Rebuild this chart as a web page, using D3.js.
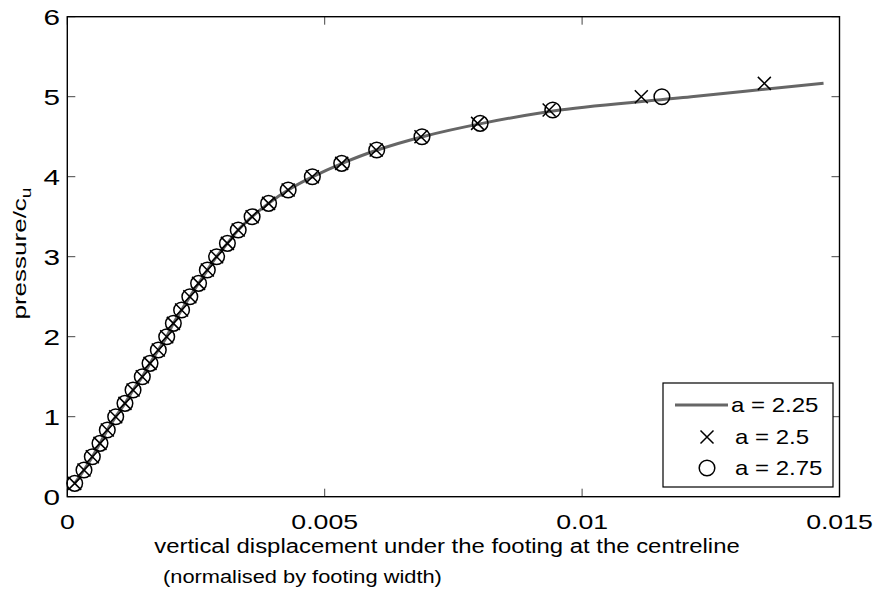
<!DOCTYPE html>
<html>
<head>
<meta charset="utf-8">
<script src="https://cdn.jsdelivr.net/npm/d3@7"></script>
<style>
  html, body { margin: 0; padding: 0; background: #fff; }
  svg { display: block; }
  text { font-family: "Liberation Sans", Arial, Helvetica, sans-serif; fill: #000; }
</style>
</head>
<body>
<svg id="chart" width="874" height="590"></svg>
<script>
// Load levels (pressure / c_u) at which displacements were recorded
const pressureLevels = [0.1667, 0.3333, 0.5, 0.6667, 0.8333, 1.0, 1.1667, 1.3333, 1.5, 1.6667,
  1.8333, 2.0, 2.1667, 2.3333, 2.5, 2.6667, 2.8333, 3.0, 3.1667, 3.3333,
  3.5, 3.6667, 3.8333, 4.0, 4.1667, 4.3333, 4.5, 4.6667, 4.8333, 5.0, 5.1667];

// Normalised vertical displacement at the centreline, one array per value of a
const dispA225 = [0.000144, 0.000324, 0.000486, 0.000635, 0.000777, 0.00094, 0.00112, 0.001277, 0.001457, 0.001607,
  0.001768, 0.001931, 0.00206, 0.00222, 0.00238, 0.00255, 0.00272, 0.0029, 0.00311, 0.00332,
  0.00359, 0.00391, 0.00429, 0.00477, 0.00534, 0.00602, 0.0069, 0.00806, 0.00957, 0.01212, 0.01469];
const dispA25 = [0.000144, 0.000324, 0.000486, 0.000635, 0.000777, 0.00094, 0.00112, 0.001277, 0.001457, 0.001607,
  0.001768, 0.001931, 0.00206, 0.00222, 0.00238, 0.00255, 0.00272, 0.0029, 0.00311, 0.00332,
  0.00359, 0.00391, 0.00429, 0.00476, 0.00533, 0.006, 0.00687, 0.00797, 0.00936, 0.01115, 0.01354];
const dispA275 = [0.000144, 0.000324, 0.000486, 0.000635, 0.000777, 0.00094, 0.00112, 0.001277, 0.001457, 0.001607,
  0.001768, 0.001931, 0.00206, 0.00222, 0.00238, 0.00255, 0.00272, 0.0029, 0.00311, 0.00332,
  0.00359, 0.00391, 0.00429, 0.00476, 0.00533, 0.00601, 0.00689, 0.00802, 0.00943, 0.01155];

const xTicks = [0, 0.005, 0.01, 0.015];
const xTickLabels = ["0", "0.005", "0.01", "0.015"];
const yTicks = [0, 1, 2, 3, 4, 5, 6];
const yTickLabels = ["0", "1", "2", "3", "4", "5", "6"];
const legendLabels = ["a = 2.25", "a = 2.5", "a = 2.75"];

const svg = d3.select("#chart");
const plot = { left: 67.3, right: 839.5, top: 16.7, bottom: 496.7 };

const x = d3.scaleLinear().domain([0, 0.015]).range([plot.left, plot.right]);
const y = d3.scaleLinear().domain([0, 6]).range([plot.bottom, plot.top]);

const tickLen = 8;

// Tick marks pointing inward on all four sides
const tickG = svg.append("g").attr("stroke", "#444").attr("stroke-width", 1);
xTicks.forEach(v => {
  tickG.append("line").attr("x1", x(v)).attr("x2", x(v)).attr("y1", plot.bottom).attr("y2", plot.bottom - tickLen);
  tickG.append("line").attr("x1", x(v)).attr("x2", x(v)).attr("y1", plot.top).attr("y2", plot.top + tickLen);
});
yTicks.forEach(v => {
  tickG.append("line").attr("x1", plot.left).attr("x2", plot.left + tickLen).attr("y1", y(v)).attr("y2", y(v));
  tickG.append("line").attr("x1", plot.right).attr("x2", plot.right - tickLen).attr("y1", y(v)).attr("y2", y(v));
});

// Axis frame
svg.append("rect")
  .attr("x", plot.left).attr("y", plot.top)
  .attr("width", plot.right - plot.left).attr("height", plot.bottom - plot.top)
  .attr("fill", "none").attr("stroke", "#000").attr("stroke-width", 1.4);

// Text helper with horizontal stretch
function stretchedText(g, tx, ty, str, size, anchor, sx) {
  return g.append("text")
    .attr("transform", `translate(${tx},${ty}) scale(${sx},1)`)
    .attr("text-anchor", anchor)
    .attr("font-size", size)
    .text(str);
}
const labelG = svg.append("g");
xTicks.forEach((v, i) => stretchedText(labelG, x(v), 529, xTickLabels[i], 21, "middle", 1.27));
yTicks.forEach((v, i) => stretchedText(labelG, 60, y(v) + 8, yTickLabels[i], 22, "end", 1.35));

// Axis titles
stretchedText(svg, 447, 553, "vertical displacement under the footing at the centreline", 19.5, "middle", 1.225);
stretchedText(svg, 163, 583, "(normalised by footing width)", 18.5, "start", 1.18);

const yTitle = svg.append("text")
  .attr("transform", `translate(26,253.5) rotate(-90) scale(1.37,1)`)
  .attr("text-anchor", "middle")
  .attr("font-size", 19);
yTitle.append("tspan").text("pressure/c");
yTitle.append("tspan").attr("font-size", 14).attr("dy", 5).text("u");

// Curve for a = 2.25
const lineData = pressureLevels.map((p, i) => [dispA225[i], p]);
const line = d3.line().x(d => x(d[0])).y(d => y(d[1])).curve(d3.curveCatmullRom);
svg.append("path")
  .datum(lineData)
  .attr("d", line)
  .attr("fill", "none")
  .attr("stroke", "#666")
  .attr("stroke-width", 3);

// Cross markers for a = 2.5
const cross = (cx, cy, s) => `M${cx - s},${cy - s}L${cx + s},${cy + s}M${cx - s},${cy + s}L${cx + s},${cy - s}`;
svg.append("g").selectAll("path")
  .data(dispA25.map((d, i) => [d, pressureLevels[i]]))
  .join("path")
  .attr("d", d => cross(x(d[0]), y(d[1]), 6.5))
  .attr("stroke", "#000").attr("stroke-width", 1.5).attr("fill", "none");

// Circle markers for a = 2.75
svg.append("g").selectAll("circle")
  .data(dispA275.map((d, i) => [d, pressureLevels[i]]))
  .join("circle")
  .attr("cx", d => x(d[0])).attr("cy", d => y(d[1]))
  .attr("r", 7.8)
  .attr("fill", "none").attr("stroke", "#000").attr("stroke-width", 1.5);

// Legend
const lg = svg.append("g");
const box = { x: 663, y: 383, w: 170, h: 104 };
lg.append("rect").attr("x", box.x).attr("y", box.y).attr("width", box.w).attr("height", box.h)
  .attr("fill", "#fff").attr("stroke", "#000").attr("stroke-width", 1.2);
const rowY = [405, 437, 468];
lg.append("line").attr("x1", 675).attr("x2", 728).attr("y1", rowY[0]).attr("y2", rowY[0])
  .attr("stroke", "#666").attr("stroke-width", 3);
lg.append("path").attr("d", cross(707, rowY[1], 6.5)).attr("stroke", "#000").attr("stroke-width", 1.5);
lg.append("circle").attr("cx", 707).attr("cy", rowY[2]).attr("r", 7.8)
  .attr("fill", "none").attr("stroke", "#000").attr("stroke-width", 1.5);
stretchedText(lg, 731, rowY[0] + 7, legendLabels[0], 20, "start", 1.2);
stretchedText(lg, 735, rowY[1] + 7, legendLabels[1], 20, "start", 1.2);
stretchedText(lg, 735, rowY[2] + 7, legendLabels[2], 20, "start", 1.2);
</script>
</body>
</html>
